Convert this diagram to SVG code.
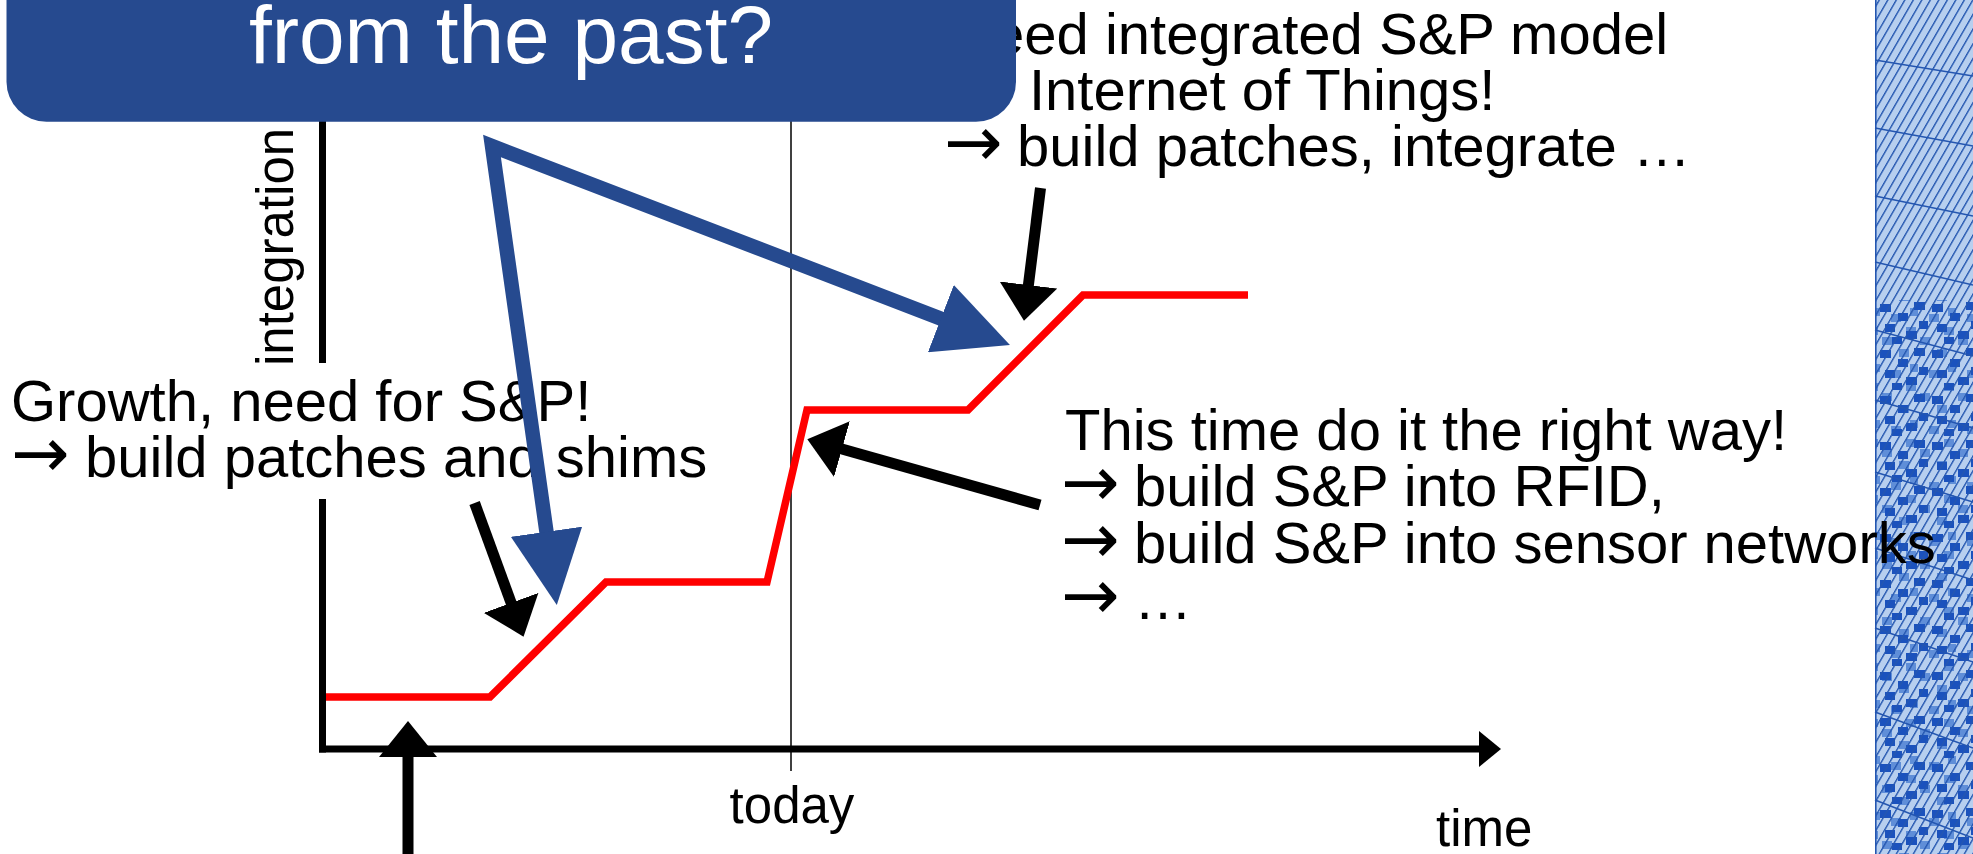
<svg xmlns="http://www.w3.org/2000/svg" width="1973" height="854" viewBox="0 0 1973 854">
<style>
  .t { font-family: "Liberation Sans", Arial, "DejaVu Sans", sans-serif; fill: #000; }
  .big { font-size: 58px; }
  .arr { font-family: "DejaVu Sans", "Liberation Sans", sans-serif; font-size: 70px; fill: #000; }
  .ax { font-size: 51px; }
  .title { font-size: 82px; fill: #ffffff; }
  .axis { stroke: #000; stroke-width: 7; fill: none; }
  .red { fill: none; stroke: #ff0000; stroke-width: 7.5; stroke-linejoin: miter; }
  .blk { stroke: #000; stroke-width: 11; fill: none; marker-end: url(#headBlack); }
  .blu { stroke: #264a8f; stroke-width: 14.5; fill: none; stroke-linejoin: miter; marker-start: url(#headBlue); marker-end: url(#headBlue); }
  .grid { stroke: #2456b0; stroke-width: 1.6; fill: none; }
</style>
<defs>
  <marker id="headBlack" markerUnits="userSpaceOnUse" markerWidth="36" markerHeight="58" viewBox="0 0 36 58" refX="1" refY="29" orient="auto">
    <path d="M0,0 L36,29 L0,58 Z" fill="#000"/>
  </marker>
  <marker id="headBlue" markerUnits="userSpaceOnUse" markerWidth="74" markerHeight="72" viewBox="0 0 74 72" refX="1" refY="36" orient="auto-start-reverse">
    <path d="M0,0 L74,36 L0,72 Z" fill="#264a8f"/>
  </marker>
  <pattern id="hatch" patternUnits="userSpaceOnUse" width="8.5" height="20" patternTransform="skewX(-30)">
    <line x1="0.8" y1="0" x2="0.8" y2="20" stroke="#2456b0" stroke-width="1.6"/>
  </pattern>
  <pattern id="sqA" patternUnits="userSpaceOnUse" width="52" height="46" x="1877" y="300">
    <g fill="#1b52bd">
      <rect x="3" y="4" width="11" height="8"/>
      <rect x="21" y="13" width="10" height="8"/>
      <rect x="37" y="2" width="11" height="8"/>
      <rect x="8" y="24" width="10" height="8"/>
      <rect x="29" y="31" width="11" height="8"/>
      <rect x="42" y="21" width="9" height="8"/>
      <rect x="15" y="37" width="10" height="7"/>
    </g>
  </pattern>
  <pattern id="sqB" patternUnits="userSpaceOnUse" width="38" height="56" x="1880" y="306">
    <g fill="#5f8ed8">
      <rect x="11" y="8" width="10" height="8"/>
      <rect x="26" y="21" width="10" height="8"/>
      <rect x="2" y="31" width="10" height="8"/>
      <rect x="19" y="43" width="10" height="8"/>
      <rect x="30" y="2" width="8" height="8"/>
    </g>
  </pattern>
</defs>

<g id="side-panel">
  <rect x="1875" y="0" width="98" height="854" fill="#b7cfef"/>
  <rect x="1875" y="300" width="98" height="554" fill="url(#sqB)"/>
  <rect x="1875" y="300" width="98" height="554" fill="url(#sqA)"/>
  <rect x="1875" y="0" width="98" height="854" fill="url(#hatch)"/>
  <path class="grid" d="M1875,60 L1973,76 M1875,128 L1973,146 M1875,196 L1973,216 M1875,262 L1973,285 M1875,330 L1973,356 M1875,400 L1973,428 M1875,472 L1973,502 M1875,548 L1973,580 M1875,628 L1973,662 M1875,712 L1973,748 M1875,800 L1973,838"/>
  <line x1="1875.8" y1="0" x2="1875.8" y2="854" stroke="#2456b0" stroke-width="1.6"/>
</g>

<g id="chart-axes">
  <line class="axis" x1="322.5" y1="110" x2="322.5" y2="363"/>
  <line class="axis" x1="322.5" y1="499" x2="322.5" y2="752.5"/>
  <line class="axis" x1="319" y1="749" x2="1481" y2="749"/>
  <polygon points="1479,731 1501,749 1479,767" fill="#000"/>
  <line x1="791" y1="110" x2="791" y2="771" stroke="#000" stroke-width="1.5"/>
  <text class="t ax" transform="translate(293,366) rotate(-90)">integration</text>
  <text class="t ax" x="792" y="823" text-anchor="middle">today</text>
  <text class="t ax" x="1436" y="846">time</text>
</g>

<g id="curve">
  <polyline class="red" points="326,697 490,697 606,582 767,582 807,410 968,410 1083,295 1248,295"/>
</g>

<g id="label-growth">
  <text class="t big" x="11" y="421">Growth, need for S&amp;P!</text>
  <text class="arr" x="11" y="477">→</text>
  <text class="t big" x="85" y="477">build patches and shims</text>
</g>

<g id="label-right-way">
  <text class="t big" x="1065" y="450">This time do it the right way!</text>
  <text class="arr" x="1061" y="506">→</text>
  <text class="t big" x="1134" y="506">build S&amp;P into RFID,</text>
  <text class="arr" x="1061" y="562.5">→</text>
  <text class="t big" x="1134" y="562.5">build S&amp;P into sensor networks</text>
  <text class="arr" x="1061" y="619">→</text>
  <text class="t big" x="1134" y="619">…</text>
</g>

<g id="label-iot">
  <text class="t big" x="992" y="53.5">eed integrated S&amp;P model</text>
  <text class="t big" x="1029" y="110">Internet of Things!</text>
  <text class="arr" x="944" y="166">→</text>
  <text class="t big" x="1017" y="166">build patches, integrate …</text>
</g>

<g id="connectors">
  <path class="blk" d="M408,854 L408,756"/>
  <path class="blk" d="M474.6,503 L511.5,603.8"/>
  <path class="blk" d="M1040.5,188 L1028.3,286"/>
  <path class="blk" d="M1040,505 L841,448.8"/>
  <path class="blu" d="M546.6,532.7 L492,146 L941.8,318.9"/>
</g>

<g id="callout">
  <rect x="6.5" y="-60" width="1009.5" height="181.7" rx="40" ry="40" fill="#264a8f"/>
  <text class="t title" x="511" y="63" text-anchor="middle">from the past?</text>
</g>
</svg>
